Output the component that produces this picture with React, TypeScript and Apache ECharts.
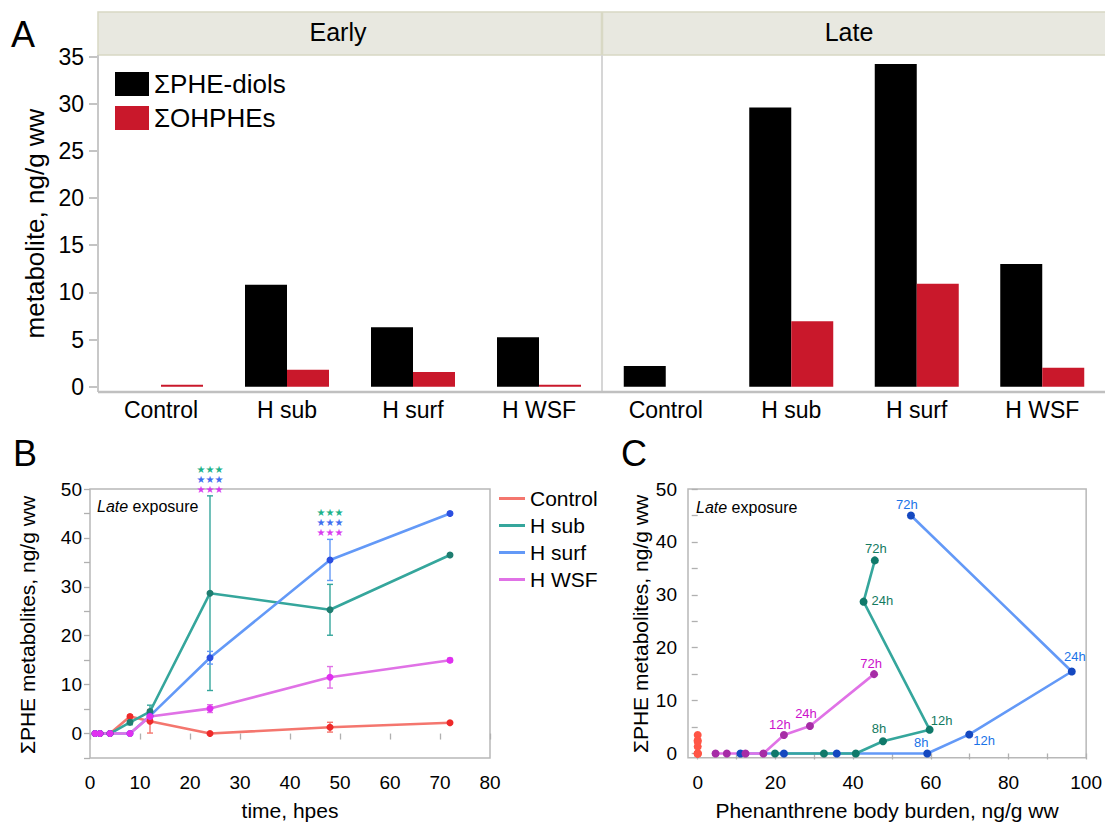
import React, { useEffect, useRef } from 'react';
import * as echarts from 'echarts';

// ---------- Panel A data ----------
const groupsA = ['Control', 'H sub', 'H surf', 'H WSF'];
const earlyDiols = [0, 10.8, 6.3, 5.25];
const earlyOH = [0.2, 1.8, 1.55, 0.2];
const lateDiols = [2.2, 29.6, 34.2, 13.0];
const lateOH = [0, 6.95, 10.9, 2.0];

// ---------- Panel B data ----------
const timesB = [1, 2, 4, 8, 12, 24, 48, 72];
const controlB = [0, 0, 0, 3.5, 2.5, 0, 1.3, 2.2];
const controlErr = [0, 0, 0, 0.3, 2.4, 0, 1.0, 0.2];
const hsubB = [0, 0, 0, 2.3, 4.5, 28.7, 25.3, 36.5];
const hsubErr = [0, 0, 0, 0.5, 1.3, 19.9, 5.2, 0.3];
const hsurfB = [0, 0, 0, 0, 3.6, 15.5, 35.5, 45.0];
const hsurfErr = [0, 0, 0, 0, 0.4, 1.3, 4.2, 0.3];
const hwsfB = [0, 0, 0, 0, 3.5, 5.1, 11.5, 15.0];
const hwsfErr = [0, 0, 0, 0, 0.3, 0.8, 2.2, 0.4];
const starTimes = [24, 48];

// ---------- Panel C data ----------
const timesC = [1, 2, 4, 8, 12, 24, 72];
const hsubBurden = [19.9, 32.5, 40.7, 47.7, 59.7, 42.7, 45.6];
const hsubMetC = [0, 0, 0, 2.3, 4.5, 28.7, 36.5];
const hsurfBurden = [11.0, 22.2, 35.8, 59.1, 69.9, 96.3, 54.9];
const hsurfMetC = [0, 0, 0, 0, 3.6, 15.5, 45.0];
const hwsfBurden = [4.6, 7.5, 12.3, 16.9, 22.2, 28.9, 45.4];
const hwsfMetC = [0, 0, 0, 0, 3.5, 5.2, 15.0];
const controlBurdenC = [0, 0, 0, 0, 0, 0, 0, 0];

// tick values
const cXLabels = [0, 20, 40, 60, 80, 100];
const cXTicks = [0, 10, 20, 30, 40, 50, 60, 70, 80, 90, 100];
const cYLabels = [0, 10, 20, 30, 40, 50];
const cYTicks = [0, 5, 10, 15, 20, 25, 30, 35, 40, 45, 50];

const FONT = '"Liberation Sans", Arial, Helvetica, sans-serif';

const col = {
  diol: '#000000',
  oh: '#c9182b',
  ctrlLine: '#f4766e', ctrlDot: '#ee2a2a',
  subLine: '#35a69c', subDot: '#1f7d70',
  surfLine: '#6399f7', surfDot: '#2c4fe0',
  wsfLine: '#e072e6', wsfDot: '#e030f0',
  cSubDot: '#10796a', cSurfDot: '#1448c0', cWsfDot: '#a62ca6', cCtrlDot: '#ff5546',
  cSubLbl: '#137a5f', cSurfLbl: '#1a73e8', cWsfLbl: '#cc11cc',
  starSub: '#1db38a', starSurf: '#3f6fef', starWsf: '#d93cf0',
  axis: '#b0b0b0',
};

const cLabelPlacement: Record<string, Record<number, { pos: string; off: [number, number] }>> = {
  surf: { 72: { pos: 'top', off: [-4, 2] }, 24: { pos: 'top', off: [3, -2] }, 12: { pos: 'right', off: [-2, 6] }, 8: { pos: 'top', off: [-6, 2] } },
  sub: { 72: { pos: 'top', off: [1, 1] }, 24: { pos: 'right', off: [2, -1] }, 12: { pos: 'top', off: [12, 3] }, 8: { pos: 'top', off: [-4, 0] } },
  wsf: { 72: { pos: 'top', off: [-3, 2] }, 24: { pos: 'top', off: [-4, 0] }, 12: { pos: 'top', off: [-4, 2] } },
};

function cData(burden: number[], met: number[], key: string, color: string) {
  return timesC.map((t, i) => {
    const pl = cLabelPlacement[key][t];
    const item: any = { value: [burden[i], met[i]] };
    if (pl) {
      item.label = {
        show: true, position: pl.pos, distance: 2, offset: pl.off,
        formatter: `${t}h`, color, fontSize: 13, fontFamily: FONT,
      };
    }
    return item;
  });
}

function errData(vals: number[], errs: number[]) {
  return timesB.map((t, i) => [t, vals[i], errs[i]]).filter((d) => d[2] > 0);
}

function errSeries(vals: number[], errs: number[], color: string) {
  return {
    type: 'custom', xAxisIndex: 2, yAxisIndex: 2, z: 1,
    data: errData(vals, errs),
    encode: { x: 0, y: 1 },
    renderItem: (params: any, api: any) => {
      const x = api.value(0), y = api.value(1), e = api.value(2);
      const top = api.coord([x, y + e]);
      const bot = api.coord([x, y - e]);
      const cw = 3;
      const st = { stroke: color, lineWidth: 1.4 };
      return {
        type: 'group',
        children: [
          { type: 'line', shape: { x1: top[0], y1: top[1], x2: bot[0], y2: bot[1] }, style: st },
          { type: 'line', shape: { x1: top[0] - cw, y1: top[1], x2: top[0] + cw, y2: top[1] }, style: st },
          { type: 'line', shape: { x1: bot[0] - cw, y1: bot[1], x2: bot[0] + cw, y2: bot[1] }, style: st },
        ],
      };
    },
  };
}

function lineB(name: string, vals: number[], line: string, dot: string) {
  return {
    name, type: 'line', xAxisIndex: 2, yAxisIndex: 2, z: 3,
    data: timesB.map((t, i) => [t, vals[i]]),
    symbol: 'circle', symbolSize: 7, showSymbol: true,
    lineStyle: { color: line, width: 2.6 },
    itemStyle: { color: dot },
  };
}

function lineC(name: string, data: any[], line: string, dot: string) {
  return {
    name, type: 'line', xAxisIndex: 3, yAxisIndex: 3, z: 3,
    data, symbol: 'circle', symbolSize: 8,
    lineStyle: { color: line, width: 2.6 },
    itemStyle: { color: dot },
  };
}

export default function App() {
  const ref = useRef<HTMLDivElement>(null);
  useEffect(() => {
    document.body.style.margin = '0';
    const chart = echarts.init(ref.current!, undefined, { renderer: 'svg' });
    const t = (text: string, x: number, y: number, size: number, extra: any = {}) => ({
      type: 'text', x, y, z: 20,
      style: { text, fontSize: size, fontFamily: FONT, fill: '#000', align: 'center', verticalAlign: 'middle', ...extra },
    });
    const rot = (g: any) => ({ ...g, rotation: Math.PI / 2 });
    const italicLate = (x: number, y: number) => ({
      type: 'text', x, y, z: 20,
      style: {
        text: '{i|Late} exposure', fontSize: 16, fontFamily: FONT, fill: '#000', align: 'left', verticalAlign: 'middle',
        rich: { i: { fontStyle: 'italic', fontSize: 16, fontFamily: FONT } },
      },
    });
    const baseGraphic: any[] = [
      // strip header
      { type: 'rect', shape: { x: 98, y: 12, width: 1010, height: 43 }, style: { fill: '#e8e8e0', stroke: '#d8d8c4', lineWidth: 1.5 }, z: 1 },
      { type: 'line', shape: { x1: 602, y1: 12, x2: 602, y2: 55 }, style: { stroke: '#d8d8c4', lineWidth: 2.5 }, z: 2 },
      { type: 'line', shape: { x1: 602, y1: 55, x2: 602, y2: 392 }, style: { stroke: '#d6d6d6', lineWidth: 2 }, z: 2 },
      { type: 'line', shape: { x1: 98, y1: 55, x2: 98, y2: 392 }, style: { stroke: '#c8c8c8', lineWidth: 2 }, z: 2 },
      { type: 'line', shape: { x1: 98, y1: 392, x2: 1105, y2: 392 }, style: { stroke: '#c0c0c0', lineWidth: 2.5 }, z: 2 },
      t('Early', 338, 32, 25),
      t('Late', 849, 32, 25),
      t('A', 23, 34, 36),
      t('B', 25, 453, 36),
      t('C', 634, 453, 36),
      rot(t('metabolite, ng/g ww', 35, 223.5, 26)),
      rot(t('ΣPHE metabolites, ng/g ww', 27, 625, 21)),
      rot(t('ΣPHE metabolites, ng/g ww', 640, 624, 21)),
      t('time, hpes', 290, 810, 21),
      t('Phenanthrene body burden, ng/g ww', 887, 810, 21),
      italicLate(97, 506),
      italicLate(696, 507),
    ];

    const option: any = {
      animation: false,
      textStyle: { fontFamily: FONT, color: '#000' },
      grid: [
        { left: 98, top: 56.5, width: 504, height: 330.2 },
        { left: 603, top: 56.5, width: 504, height: 330.2 },
        { left: 90, top: 489, width: 400, height: 269, show: true, borderColor: '#b8b8b8', borderWidth: 1.5, backgroundColor: 'transparent' },
        { left: 688, top: 489, width: 402.7, height: 268.7, show: true, borderColor: '#b8b8b8', borderWidth: 1.5, backgroundColor: 'transparent' },
      ],
      xAxis: [
        { type: 'category', gridIndex: 0, data: groupsA, axisLine: { show: false }, axisTick: { show: false }, axisLabel: { fontSize: 23, color: '#000', margin: 12, interval: 0 } },
        { type: 'category', gridIndex: 1, data: groupsA, axisLine: { show: false }, axisTick: { show: false }, axisLabel: { fontSize: 23, color: '#000', margin: 12, interval: 0 } },
        {
          type: 'value', gridIndex: 2, min: 0, max: 80, interval: 10,
          axisLine: { show: false }, splitLine: { show: false },
          axisTick: { show: true, length: 6, lineStyle: { color: col.axis, width: 1.3 } },
          axisLabel: { fontSize: 19, color: '#000', margin: 15 },
        },
        {
          type: 'value', gridIndex: 3, min: -2.5, max: 100,
          axisLine: { show: false }, splitLine: { show: false },
          axisTick: { show: true, length: 6, customValues: cXTicks, lineStyle: { color: col.axis, width: 1.3 } },
          axisLabel: { fontSize: 19, color: '#000', margin: 15, customValues: cXLabels },
        },
      ],
      yAxis: [
        {
          type: 'value', gridIndex: 0, min: 0, max: 35, interval: 5,
          axisLine: { show: false }, splitLine: { show: false },
          axisTick: { show: true, length: 9, lineStyle: { color: col.axis, width: 1.5 } },
          axisLabel: { fontSize: 23, color: '#000', margin: 14 },
        },
        { type: 'value', gridIndex: 1, min: 0, max: 35, interval: 5, show: false },
        {
          type: 'value', gridIndex: 2, min: -5, max: 50, interval: 5,
          axisLine: { show: false }, splitLine: { show: false },
          axisTick: { show: true, length: 6, lineStyle: { color: col.axis, width: 1.3 } },
          axisLabel: { fontSize: 19, color: '#000', margin: 8, formatter: (v: number) => (v >= 0 && v % 10 === 0 ? String(v) : '') },
        },
        {
          type: 'value', gridIndex: 3, min: -0.8, max: 50,
          axisLine: { show: false }, splitLine: { show: false },
          axisTick: { show: true, length: 6, customValues: cYTicks, lineStyle: { color: col.axis, width: 1.3 } },
          axisLabel: { fontSize: 19, color: '#000', margin: 11, customValues: cYLabels },
        },
      ],
      legend: [
        {
          data: ['ΣPHE-diols', 'ΣOHPHEs'], orient: 'vertical', left: 115, top: 71,
          itemWidth: 34, itemHeight: 24, itemGap: 8, icon: 'rect', selectedMode: false,
          textStyle: { fontSize: 26, color: '#000', fontFamily: FONT }, padding: 0,
        },
        {
          data: [
            { name: 'Control', itemStyle: { color: col.ctrlLine } },
            { name: 'H sub', itemStyle: { color: col.subLine } },
            { name: 'H surf', itemStyle: { color: col.surfLine } },
            { name: 'H WSF', itemStyle: { color: col.wsfLine } },
          ],
          orient: 'vertical', left: 499, top: 488, itemWidth: 26, itemHeight: 3, itemGap: 6,
          icon: 'rect', selectedMode: false, padding: 0,
          textStyle: { fontSize: 21, color: '#000', fontFamily: FONT },
        },
      ],
      series: [
        { name: 'ΣPHE-diols', type: 'bar', xAxisIndex: 0, yAxisIndex: 0, data: earlyDiols, barWidth: 42, barGap: '0%', itemStyle: { color: col.diol } },
        { name: 'ΣOHPHEs', type: 'bar', xAxisIndex: 0, yAxisIndex: 0, data: earlyOH, barWidth: 42, barGap: '0%', itemStyle: { color: col.oh } },
        { name: 'ΣPHE-diols', type: 'bar', xAxisIndex: 1, yAxisIndex: 1, data: lateDiols, barWidth: 42, barGap: '0%', itemStyle: { color: col.diol } },
        { name: 'ΣOHPHEs', type: 'bar', xAxisIndex: 1, yAxisIndex: 1, data: lateOH, barWidth: 42, barGap: '0%', itemStyle: { color: col.oh } },

        errSeries(controlB, controlErr, col.ctrlLine),
        errSeries(hsubB, hsubErr, col.subLine),
        errSeries(hsurfB, hsurfErr, col.surfLine),
        errSeries(hwsfB, hwsfErr, col.wsfLine),
        lineB('Control', controlB, col.ctrlLine, col.ctrlDot),
        lineB('H sub', hsubB, col.subLine, col.subDot),
        lineB('H surf', hsurfB, col.surfLine, col.surfDot),
        lineB('H WSF', hwsfB, col.wsfLine, col.wsfDot),

        lineC('C H surf', cData(hsurfBurden, hsurfMetC, 'surf', col.cSurfLbl), col.surfLine, col.cSurfDot),
        lineC('C H sub', cData(hsubBurden, hsubMetC, 'sub', col.cSubLbl), col.subLine, col.cSubDot),
        lineC('C H WSF', cData(hwsfBurden, hwsfMetC, 'wsf', col.cWsfLbl), col.wsfLine, col.cWsfDot),
        {
          name: 'C Control', type: 'scatter', xAxisIndex: 3, yAxisIndex: 3, z: 4,
          data: controlBurdenC.map((b, i) => [b, controlB[i]]),
          symbolSize: 8, itemStyle: { color: col.cCtrlDot, opacity: 1 },
        },
      ],
      graphic: baseGraphic,
    };
    chart.setOption(option);

    // significance stars above the highest error bar at each time
    const stars: any[] = [];
    const groups = [
      { v: hsubB, e: hsubErr, c: col.starSub },
      { v: hsurfB, e: hsurfErr, c: col.starSurf },
      { v: hwsfB, e: hwsfErr, c: col.starWsf },
    ];
    starTimes.forEach((st) => {
      const i = timesB.indexOf(st);
      const topVal = Math.max(...groups.map((g) => g.v[i] + g.e[i]));
      const p = chart.convertToPixel({ gridIndex: 2 } as any, [st, topVal]) as number[];
      const offs = [-26.5, -16.5, -6.5];
      groups.forEach((g, k) => {
        stars.push({
          type: 'text', x: p[0], y: p[1] + offs[k], z: 30,
          style: { text: '★★★', fontSize: 10, fontFamily: '"DejaVu Sans", sans-serif', fill: g.c, align: 'center', verticalAlign: 'middle' },
        });
      });
    });
    chart.setOption({ graphic: [...baseGraphic, ...stars] });

    return () => chart.dispose();
  }, []);
  return <div ref={ref} style={{ position: 'absolute', left: 0, top: 0, width: 1105, height: 822 }} />;
}
